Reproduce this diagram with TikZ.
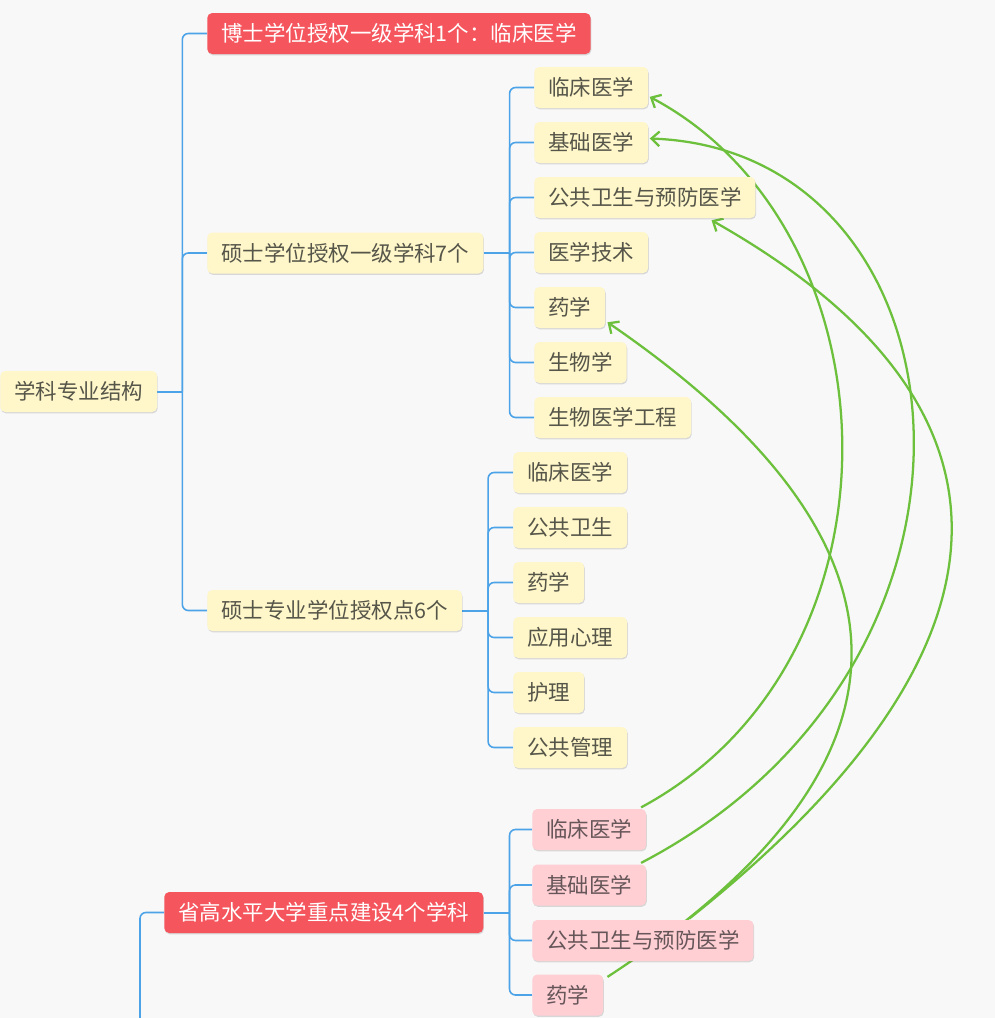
\documentclass[tikz,border=0pt]{standalone}
\usepackage{fontspec}
\newfontfamily\cjk{Noto Sans CJK SC}
\usetikzlibrary{arrows.meta,shadows,calc}
\pgfdeclarelayer{bg0}
\pgfdeclarelayer{background}
\pgfsetlayers{bg0,background,main}
\definecolor{bgc}{HTML}{F8F8F8}
\definecolor{yfill}{HTML}{FFF7C9}
\definecolor{pfill}{HTML}{FFCFD4}
\definecolor{rfill}{HTML}{F5555D}
\definecolor{ytext}{HTML}{55554A}
\definecolor{ptext}{HTML}{665659}
\definecolor{blueline}{HTML}{4DA3E8}
\definecolor{greenline}{HTML}{6CC03C}
\tikzset{
  box/.style={anchor=west, rounded corners=3.75pt, inner xsep=10.5pt, inner ysep=0pt,
    minimum height=30.75pt, font=\cjk\fontsize{16.1pt}{19pt}\selectfont,
    drop shadow={shadow xshift=0.5pt,shadow yshift=-1pt,opacity=0.13,fill=black}},
  ybox/.style={box, fill=yfill, text=ytext},
  pbox/.style={box, fill=pfill, text=ptext},
  rbox/.style={box, fill=rfill, text=white},
  trunk/.style={draw=blueline, line width=1.5pt},
  branch/.style={draw=blueline, line width=1.2pt, rounded corners=4.5pt},
  garrow/.style={draw=greenline, line width=1.7pt, -{Straight Barb[length=6pt,width=11pt,line width=1.7pt]}}
}
\begin{document}
\begin{tikzpicture}[x=0.75pt,y=-0.75pt]
\useasboundingbox (0,0) rectangle (995,1018);
\begin{pgfonlayer}{bg0}
\fill[bgc] (0,0) rectangle (995,1018);
\end{pgfonlayer}

% root and level 2
\node[ybox] (root) at (0,391.5) {学科专业结构};
\node[rbox] (b1) at (207,33.5) {博士学位授权一级学科1个：临床医学};
\node[ybox] (m1) at (207,253) {硕士学位授权一级学科7个};
\node[ybox] (m2) at (207,610.5) {硕士专业学位授权点6个};
\node[rbox] (s1) at (164,912.5) {省高水平大学重点建设4个学科};

% children of m1
\node[ybox] (y1) at (534,87.5) {临床医学};
\node[ybox] (y2) at (534,142.5) {基础医学};
\node[ybox] (y3) at (534,197.5) {公共卫生与预防医学};
\node[ybox] (y4) at (534,252.5) {医学技术};
\node[ybox] (y5) at (534,307.5) {药学};
\node[ybox] (y6) at (534,362.5) {生物学};
\node[ybox] (y7) at (534,417.5) {生物医学工程};

% children of m2
\node[ybox] (z1) at (513,472.5) {临床医学};
\node[ybox] (z2) at (513,527.5) {公共卫生};
\node[ybox] (z3) at (513,582.5) {药学};
\node[ybox] (z4) at (513,637.5) {应用心理};
\node[ybox] (z5) at (513,692.5) {护理};
\node[ybox] (z6) at (513,747.5) {公共管理};

% children of s1
\node[pbox] (p1) at (532,829.5) {临床医学};
\node[pbox] (p2) at (532,885) {基础医学};
\node[pbox] (p3) at (532,940.5) {公共卫生与预防医学};
\node[pbox] (p4) at (532,995) {药学};

\coordinate (offtrunk) at (140,1030);

\begin{pgfonlayer}{background}
% blue connectors
\draw[trunk] (root.east) -- ++(25,0) coordinate (j0);
\foreach \c in {b1,m1,m2} \draw[branch] (j0) |- (\c.west);
\draw[trunk] (m1.east) -- ++(26,0) coordinate (j1);
\foreach \c in {y1,y2,y3,y4,y5,y6,y7} \draw[branch] (j1) |- (\c.west);
\draw[trunk] (m2.east) -- ++(26,0) coordinate (j2);
\foreach \c in {z1,z2,z3,z4,z5,z6} \draw[branch] (j2) |- (\c.west);
\draw[trunk] (s1.east) -- ++(26,0) coordinate (j3);
\foreach \c in {p1,p2,p3,p4} \draw[branch] (j3) |- (\c.west);
\draw[branch] (offtrunk) |- (s1.west);

% green relation curves
\draw[garrow] ([xshift=-4pt,yshift=1pt]p1.north east) .. controls (915,660) and (900,230) .. ([xshift=1pt,yshift=-7pt]y1.east);
\draw[garrow] ([xshift=-4pt,yshift=1pt]p2.north east) .. controls (1030,660) and (975,150) .. ([xshift=1pt,yshift=3pt]y2.east);
\draw[garrow] ([xshift=35pt,yshift=1pt]p3.north) .. controls (1040,640) and (1030,400) .. ([xshift=50pt,yshift=-1.5pt]y3.south);
\draw[garrow] ([xshift=3pt,yshift=-2pt]p4.north east) .. controls (940,760) and (925,540) .. ([xshift=1.5pt,yshift=4.5pt]y5.south east);
\end{pgfonlayer}
\end{tikzpicture}
\end{document}
